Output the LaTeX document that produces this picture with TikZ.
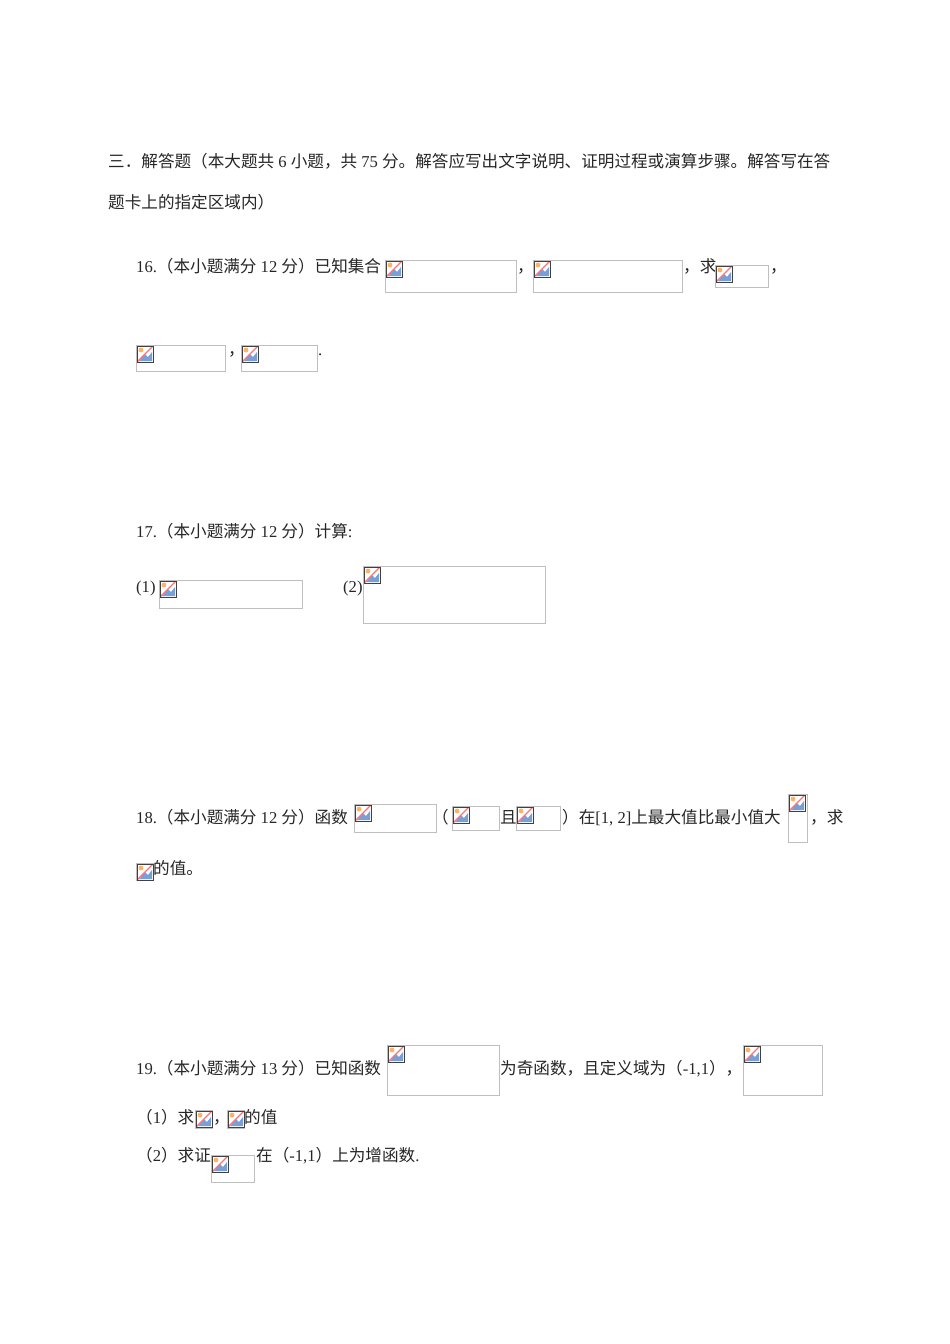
\documentclass[tikz,border=0pt]{standalone}
\usepackage{fontspec}
\setmainfont{Liberation Serif}
\newfontfamily\cjk{Noto Sans CJK SC}
\newcommand\zh[1]{{\cjk #1}}
\tikzset{x=1pt,y=-1pt,
 t/.style={anchor=base west,inner sep=0pt,font=\fontsize{16.6}{19}\selectfont,text=black!85},
 frame/.style={draw=black!25,line width=0.7pt}}
\newcommand\bimg[4]{%
 \draw[frame] (#1,#2) rectangle ++(#3,#4);
 \begin{scope}[shift={(#1+1,#2+1)}]
  \fill[white] (0,0) rectangle (16,16);
  \fill[cyan!50!blue!55] (2,15) -- (8,8) -- (11,11) -- (15,6) -- (15,15) -- cycle;
  \fill[orange!60] (4,4) circle (2.4);
  \draw[red!55,line width=1.2pt] (0.5,15.5) -- (15.5,0.5);
  \draw[black!75,line width=1pt] (0,0) rectangle (16,16);
 \end{scope}}
\begin{document}
\begin{tikzpicture}
\useasboundingbox[fill=white] (0,0) rectangle (950,1344);
\node[t] (l1) at (108,167) {\zh{三．解答题（本大题共} 6 \zh{小题，共} 75 \zh{分。解答应写出文字说明、证明过程或演算步骤。解答写在答}};
\node[t] (l2) at (108,208) {\zh{题卡上的指定区域内）}};
% 16
\node[t] (q16) at (136,272) {16.\zh{（本小题满分} 12 \zh{分）已知集合}};
\bimg{385}{260}{131}{32}
\node[t] at (517,272) {\zh{，}};
\bimg{533}{260}{149}{32}
\node[t] at (683,272) {\zh{，求}};
\bimg{715}{265}{53}{22}
\node[t] at (770,272) {\zh{，}};
\bimg{136}{345}{89}{26}
\node[t] at (228,355) {\zh{，}};
\bimg{241}{345}{76}{26}
\node[t] at (318,355) {.};
% 17
\node[t] (q17) at (136,537) {17.\zh{（本小题满分} 12 \zh{分）计算}:};
\node[t] at (136,592) {(1)};
\bimg{159}{580}{143}{28}
\node[t] at (343,592) {(2)};
\bimg{363}{566}{182}{57}
% 18
\node[t] (q18) at (136,823) {18.\zh{（本小题满分} 12 \zh{分）函数}};
\bimg{354}{804}{82}{28}
\node[t] at (432,823) {\zh{（}};
\bimg{452}{806}{47}{24}
\node[t] at (500,823) {\zh{且}};
\bimg{516}{806}{44}{24}
\node[t] at (562,823) {\zh{）在}[1, 2]\zh{上最大值比最小值大}};
\bimg{788}{794}{19}{48}
\node[t] at (810,823) {\zh{，求}};
\bimg{136}{863}{17}{17}
\node[t] at (153,874) {\zh{的值。}};
% 19
\node[t] (q19) at (136,1074) {19.\zh{（本小题满分} 13 \zh{分）已知函数}};
\bimg{387}{1045}{112}{50}
\node[t] at (500,1074) {\zh{为奇函数，且定义域为（}-1,1\zh{），}};
\bimg{743}{1045}{79}{50}
\node[t] at (136,1123) {\zh{（}1\zh{）求}};
\bimg{195}{1110}{17}{18}
\node[t] at (213,1123) {\zh{，}};
\bimg{227}{1110}{17}{18}
\node[t] at (244,1123) {\zh{的值}};
\node[t] at (136,1161) {\zh{（}2\zh{）求证}};
\bimg{211}{1155}{43}{27}
\node[t] at (256,1161) {\zh{在（}-1,1\zh{）上为增函数}.};
\end{tikzpicture}
\end{document}
